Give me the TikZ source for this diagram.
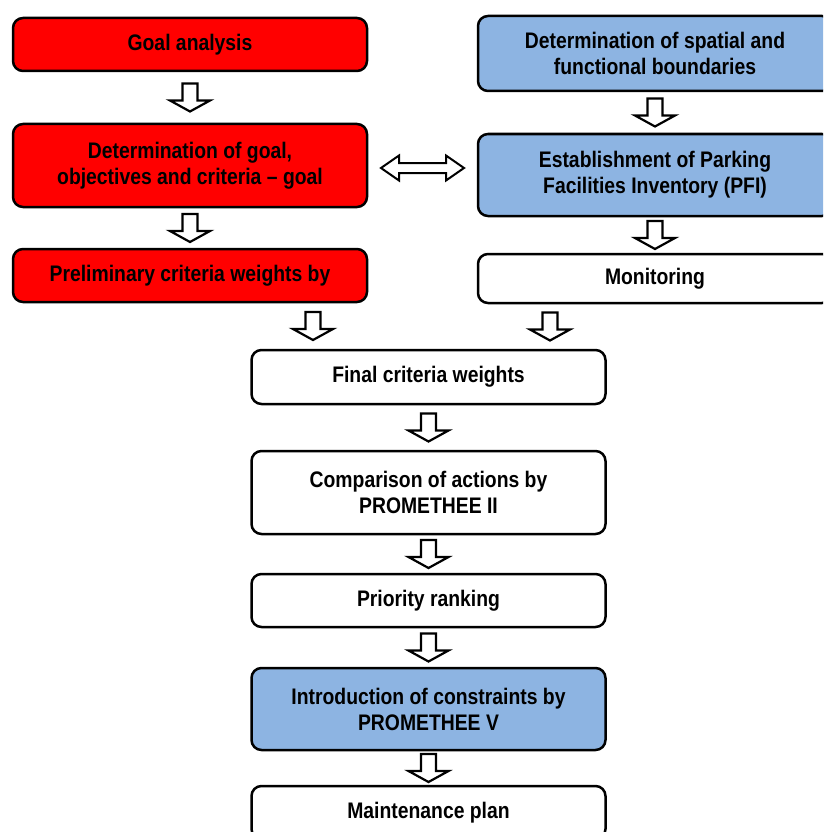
\documentclass[tikz,border=0pt]{standalone}
\usepackage{fontspec}
\setmainfont[FakeStretch=0.86]{Liberation Sans}
\usetikzlibrary{calc}
\definecolor{boxred}{RGB}{255,0,0}
\definecolor{boxblue}{RGB}{141,180,226}
\tikzset{
  box/.style={draw, line width=2.5pt, rounded corners=10pt, minimum width=354pt,
    inner sep=0pt, align=center, font=\fontsize{22.5}{26}\selectfont\bfseries},
  redbox/.style={box, fill=boxred},
  bluebox/.style={box, fill=boxblue},
  whitebox/.style={box, fill=white},
  downflow/.style={line width=2.2pt, fill=white, to path={
    let \p1=(\tikztostart), \p2=(\tikztotarget), \n1={(\y1+\y2)/2} in
    (\x1-7.5pt,\n1+14pt) -- (\x1+7.5pt,\n1+14pt) -- (\x1+7.5pt,\n1-3pt)
    -- (\x1+20pt,\n1-3pt) -- (\x1,\n1-14pt) -- (\x1-20pt,\n1-3pt)
    -- (\x1-7.5pt,\n1-3pt) -- cycle}},
  bothflow/.style={line width=2pt, fill=white, to path={
    let \p1=(\tikztostart), \p2=(\tikztotarget), \n1={(\x1+\x2)/2} in
    (\n1-41.5pt,\y1) -- (\n1-23.5pt,\y1-12.5pt) -- (\n1-23.5pt,\y1-5pt)
    -- (\n1+23.5pt,\y1-5pt) -- (\n1+23.5pt,\y1-12.5pt) -- (\n1+41.5pt,\y1)
    -- (\n1+23.5pt,\y1+12.5pt) -- (\n1+23.5pt,\y1+5pt) -- (\n1-23.5pt,\y1+5pt)
    -- (\n1-23.5pt,\y1+12.5pt) -- cycle}}
}
\begin{document}
\begin{tikzpicture}[x=1pt,y=-1pt]
\useasboundingbox (0,0) rectangle (823,832);
\clip (0,0) rectangle (823,832);

% left column
\node[redbox, minimum height=53pt] (goal) at (190,44.5) {Goal analysis};
\node[redbox, minimum height=83pt] (objectives) at (190,165.5) {Determination of goal,\\objectives and criteria – goal};
\node[redbox, minimum height=53pt] (prelim) at (190,275.5) {Preliminary criteria weights by};

% right column
\node[bluebox, minimum height=75pt] (bounds) at (655,53.5) {Determination of spatial and\\functional boundaries};
\node[bluebox, minimum height=82pt] (pfi) at (655,175) {Establishment of Parking\\Facilities Inventory (PFI)};
\node[whitebox, minimum height=49pt] (monitor) at (655,278.5) {Monitoring};

% middle column
\node[whitebox, minimum height=54pt] (final) at (428.5,377) {Final criteria weights};
\node[whitebox, minimum height=83pt] (compare) at (428.5,492.5) {Comparison of actions by\\PROMETHEE II};
\node[whitebox, minimum height=53pt] (ranking) at (428.5,600.5) {Priority ranking};
\node[bluebox, minimum height=82pt] (constraints) at (428.5,709) {Introduction of constraints by\\PROMETHEE V};
\node[whitebox, minimum height=53pt] (plan) at (428.5,812.5) {Maintenance plan};

\draw[downflow] (goal.south) to (objectives.north);
\draw[downflow] (objectives.south) to (prelim.north);
\draw[downflow] (bounds.south) to (pfi.north);
\draw[downflow] (pfi.south) to (monitor.north);
\draw[bothflow] ([yshift=-2.5pt]objectives.east) to (pfi.west);
\draw[downflow] ([xshift=123pt]prelim.south) to (final.north);
\draw[downflow] ([xshift=-105pt]monitor.south) to (final.north);
\draw[downflow] (final.south) to (compare.north);
\draw[downflow] (compare.south) to (ranking.north);
\draw[downflow] (ranking.south) to (constraints.north);
\draw[downflow] (constraints.south) to (plan.north);
\end{tikzpicture}
\end{document}
